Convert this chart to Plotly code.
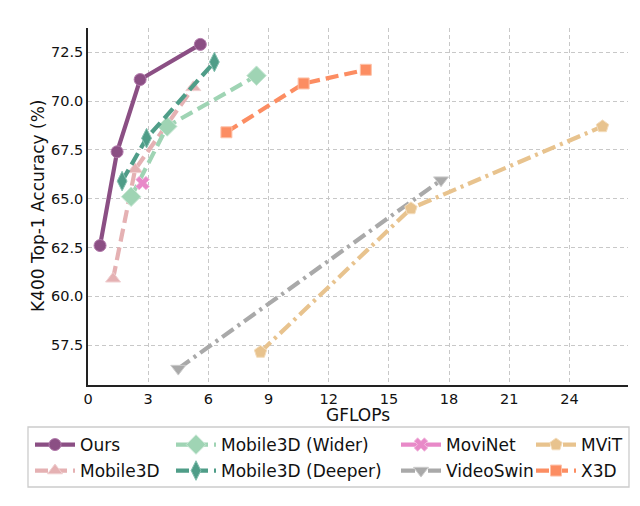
import plotly.graph_objects as go

# ---- data ----
ours_x = [0.6, 1.45, 2.6, 5.6]
ours_y = [62.6, 67.4, 71.1, 72.9]

m3d_x = [1.25, 2.35, 5.25]
m3d_y = [60.9, 66.5, 70.7]

wider_x = [2.15, 3.95, 8.4]
wider_y = [65.1, 68.7, 71.3]

deeper_x = [1.7, 2.92, 6.3]
deeper_y = [65.9, 68.1, 72.0]

movinet_x = [2.72]
movinet_y = [65.8]

swin_x = [4.5, 17.6]
swin_y = [56.3, 65.95]

mvit_x = [8.6, 16.1, 25.65]
mvit_y = [57.15, 64.5, 68.7]

x3d_x = [6.9, 10.75, 13.85]
x3d_y = [68.4, 70.9, 71.6]

x_ticks = [0, 3, 6, 9, 12, 15, 18, 21, 24]
y_ticks = [57.5, 60.0, 62.5, 65.0, 67.5, 70.0, 72.5]

FONT = "DejaVu Sans"

series = [
    # name, x, y, color, edge, dash, symbol, size, legend id
    ("Ours", ours_x, ours_y, "#8b4f84", "#b27aab", "solid", "circle", 12, "legend"),
    ("Mobile3D", m3d_x, m3d_y, "#e5b1b3", "#f0d0d1", "13px,6px", "triangle-up", 13, "legend2"),
    ("Mobile3D (Wider)", wider_x, wider_y, "#9fd4b4", "#c8e7d4", "13px,6px", "diamond", 15, "legend3"),
    ("Mobile3D (Deeper)", deeper_x, deeper_y, "#4f9d88", "#85c0b0", "13px,6px", "diamond-tall", 14, "legend4"),
    ("MoviNet", movinet_x, movinet_y, "#e889c8", "#f3bde0", "solid", "x", 12, "legend5"),
    ("VideoSwin", swin_x, swin_y, "#a9a9a9", "#cccccc", "14px,5px,3px,5px", "triangle-down", 13, "legend6"),
    ("MViT", mvit_x, mvit_y, "#e8c38e", "#f3dcbb", "14px,5px,3px,5px", "pentagon", 13, "legend7"),
    ("X3D", x3d_x, x3d_y, "#fc8d62", "#fdc2a9", "13px,6px", "square", 11, "legend8"),
]

fig = go.Figure()
for name, xs, ys, col, edge, dash, sym, size, lg in series:
    fig.add_trace(go.Scatter(
        x=xs, y=ys, name=name, mode="lines+markers",
        line=dict(color=col, width=4.2, dash=dash),
        marker=dict(symbol=sym, size=size, color=col,
                    line=dict(color=edge, width=1)),
        legend=lg, showlegend=True,
    ))

# page body has an 8px margin: figure is 632 wide, placed at (8, 8)
OFF = 8
W, H = 632, 490


def cx(px):
    return (px - OFF) / W


def cy(py):
    return 1 - (py - OFF) / H


# paper coords from page pixels (plot area spans 88..628 x, 28..385 y on page)
def pxp(px):
    return (px - 88) / 540


def pyp(py):
    return (385 - py) / 357


col_x = [30, 171, 396, 531]
row_y = [445, 471]
legend_slots = {
    "legend": (0, 0), "legend2": (0, 1),
    "legend3": (1, 0), "legend4": (1, 1),
    "legend5": (2, 0), "legend6": (2, 1),
    "legend7": (3, 0), "legend8": (3, 1),
}
legend_layout = {}
for lg, (c, r) in legend_slots.items():
    legend_layout[lg] = dict(
        x=cx(col_x[c]), y=cy(row_y[r]),
        xref="container", yref="container",
        xanchor="left", yanchor="middle",
        bgcolor="rgba(0,0,0,0)", borderwidth=0,
        font=dict(family=FONT, size=17, color="#111111"),
        itemwidth=40, visible=True,
    )

fig.update_layout(
    width=W, height=H, showlegend=True,
    margin=dict(l=80, r=12, t=20, b=113, autoexpand=False),
    paper_bgcolor="white", plot_bgcolor="white",
    font=dict(family=FONT, color="#111111"),
    **legend_layout,
)

fig.update_xaxes(
    range=[0, 26.92], tickvals=x_ticks, ticktext=[str(v) for v in x_ticks],
    showgrid=True, gridcolor="#c8c8c8", griddash="4px,3px", gridwidth=1,
    zeroline=False, showline=True, linecolor="#222222", linewidth=1.6,
    ticks="", tickfont=dict(family=FONT, size=14.5, color="#111111"),
    automargin=False,
)
fig.update_yaxes(
    range=[55.46, 73.74], tickvals=y_ticks, ticktext=[f"{v:.1f}" for v in y_ticks],
    showgrid=True, gridcolor="#c8c8c8", griddash="4px,3px", gridwidth=1,
    zeroline=False, showline=True, linecolor="#222222", linewidth=1.6,
    ticks="", tickfont=dict(family=FONT, size=14.5, color="#111111"),
    automargin=False,
)

# axis titles
fig.add_annotation(text="GFLOPs", xref="paper", yref="paper",
                   x=pxp(358), y=pyp(415), xanchor="center", yanchor="middle",
                   showarrow=False, font=dict(family=FONT, size=17, color="#111111"))
fig.add_annotation(text="K400 Top-1 Accuracy (%)", xref="paper", yref="paper",
                   x=pxp(38), y=pyp(206), xanchor="center", yanchor="middle",
                   textangle=-90, showarrow=False,
                   font=dict(family=FONT, size=17, color="#111111"))

# legend frame
fig.add_shape(type="rect", xref="paper", yref="paper",
              x0=pxp(28), x1=pxp(629), y0=pyp(487), y1=pyp(427),
              line=dict(color="#cccccc", width=1.3), fillcolor="rgba(0,0,0,0)",
              layer="above")

fig.write_html("out.html")
